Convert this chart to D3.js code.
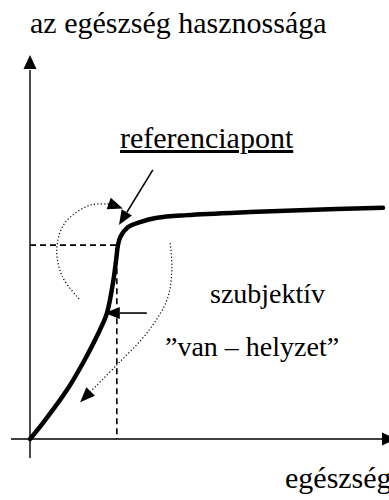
<!DOCTYPE html>
<html><head><meta charset="utf-8">
<script src="https://cdn.jsdelivr.net/npm/d3@7"></script>
</head><body style="margin:0">
<script>
// Curve: utility of health (data units, x 0-100, y 0-100)
const curveX = [0, 3.7, 10.5, 15.0, 19.8, 21.8, 23.5, 24.4, 24.9, 25.6, 27.8, 31.2, 36.0, 44.5, 62.3, 76.5, 100];
const curveY = [0, 4.2, 12.8, 19.8, 28.4, 32.8, 40.6, 46.6, 50.4, 52.6, 55.2, 56.5, 57.6, 58.3, 59.1, 59.6, 60.2];
const refPoint = [24.6, 50.5];
const pointerArrow = [[34.8, 70.1], [25.2, 55.7]];
const sideArrow = [[33.1, 32.8], [21.2, 32.8]];
const arc1X = [13.9, 9.1, 7.6, 9.9, 17.0, 22.7, 26.3];
const arc1Y = [36.5, 42.4, 49.7, 56.3, 60.9, 61.2, 60.0];
const arc2X = [39.7, 40.2, 38.8, 33.1, 24.6, 14.2];
const arc2Y = [51.0, 44.0, 36.2, 27.6, 19.3, 9.6];
const textLabels = ["az egészség hasznossága", "egészség", "referenciapont", "szubjektív", "”van – helyzet”"];

const svg = d3.select("body").append("svg").attr("width", 389).attr("height", 500).style("display", "block");
const x = d3.scaleLinear().domain([0, 100]).range([30, 383]);
const y = d3.scaleLinear().domain([0, 100]).range([439, 55]);

function head(p0, p1, len, wid) {
  const a = Math.atan2(p1[1] - p0[1], p1[0] - p0[0]);
  const bx = p1[0] - len * Math.cos(a), by = p1[1] - len * Math.sin(a);
  const nx = -Math.sin(a) * wid / 2, ny = Math.cos(a) * wid / 2;
  svg.append("path").attr("d", `M${p1[0]},${p1[1]}L${bx + nx},${by + ny}L${bx - nx},${by - ny}Z`).attr("fill", "#000");
  return [bx, by];
}

const yTop = [x(0), y(100)], yBot = [x(0), 458];
const yb = head(yBot, yTop, 14, 13);
svg.append("line").attr("x1", yBot[0]).attr("y1", yBot[1]).attr("x2", yb[0]).attr("y2", yb[1] + 1)
  .attr("stroke", "#000").attr("stroke-width", 1.4);
const xL = [11, y(0)], xR = [396, y(0)];
const xb = head(xL, xR, 14, 13);
svg.append("line").attr("x1", xL[0]).attr("y1", xL[1]).attr("x2", xb[0] + 1).attr("y2", xb[1])
  .attr("stroke", "#000").attr("stroke-width", 1.4);

svg.append("path")
  .attr("d", `M${x(0)},${y(refPoint[1])}H${x(refPoint[0])}V${y(0)}`)
  .attr("fill", "none").attr("stroke", "#000").attr("stroke-width", 1.6)
  .attr("stroke-dasharray", "6,4");

const line = d3.line().x(d => x(d[0])).y(d => y(d[1])).curve(d3.curveCatmullRom.alpha(0.5));
svg.append("path")
  .attr("d", line(curveX.map((d, i) => [d, curveY[i]])))
  .attr("fill", "none").attr("stroke", "#000").attr("stroke-width", 4.5)
  .attr("stroke-linecap", "round");

[[arc1X, arc1Y], [arc2X, arc2Y]].forEach(([ax, ay]) => {
  const p = ax.map((d, i) => [d, ay[i]]);
  const n = p.length;
  const end = [x(p[n - 1][0]), y(p[n - 1][1])];
  const prev = [x(p[n - 2][0]), y(p[n - 2][1])];
  const b = head(prev, end, 15, 12);
  const pts = p.slice(0, n - 1).map(d => [x(d[0]), y(d[1])]).concat([b]);
  svg.append("path").attr("d", d3.line().curve(d3.curveCatmullRom.alpha(0.5))(pts))
    .attr("fill", "none").attr("stroke", "#000").attr("stroke-width", 1.2)
    .attr("stroke-dasharray", "1.2,2.2");
});

[pointerArrow, sideArrow].forEach(a => {
  const p0 = [x(a[0][0]), y(a[0][1])], p1 = [x(a[1][0]), y(a[1][1])];
  const b = head(p0, p1, 15, 12);
  svg.append("line").attr("x1", p0[0]).attr("y1", p0[1]).attr("x2", b[0]).attr("y2", b[1])
    .attr("stroke", "#000").attr("stroke-width", 1.6);
});

// texts
const textPos = [[30, 33], [285, 488], [120, 148], [210, 303], [165, 356]];
const textFonts = ["Liberation Serif", "serif", "Times New Roman", "Liberation Serif", "Tinos"];
const textSizes = [30, 30, 30, 28, 28];
textLabels.forEach((t, i) => {
  const el = svg.append("text")
    .attr("x", textPos[i][0]).attr("y", textPos[i][1])
    .attr("font-family", textFonts[i]).attr("font-size", textSizes[i]).text(t);
  if (i === 2) el.attr("text-decoration", "underline");
});
</script>
</body></html>
